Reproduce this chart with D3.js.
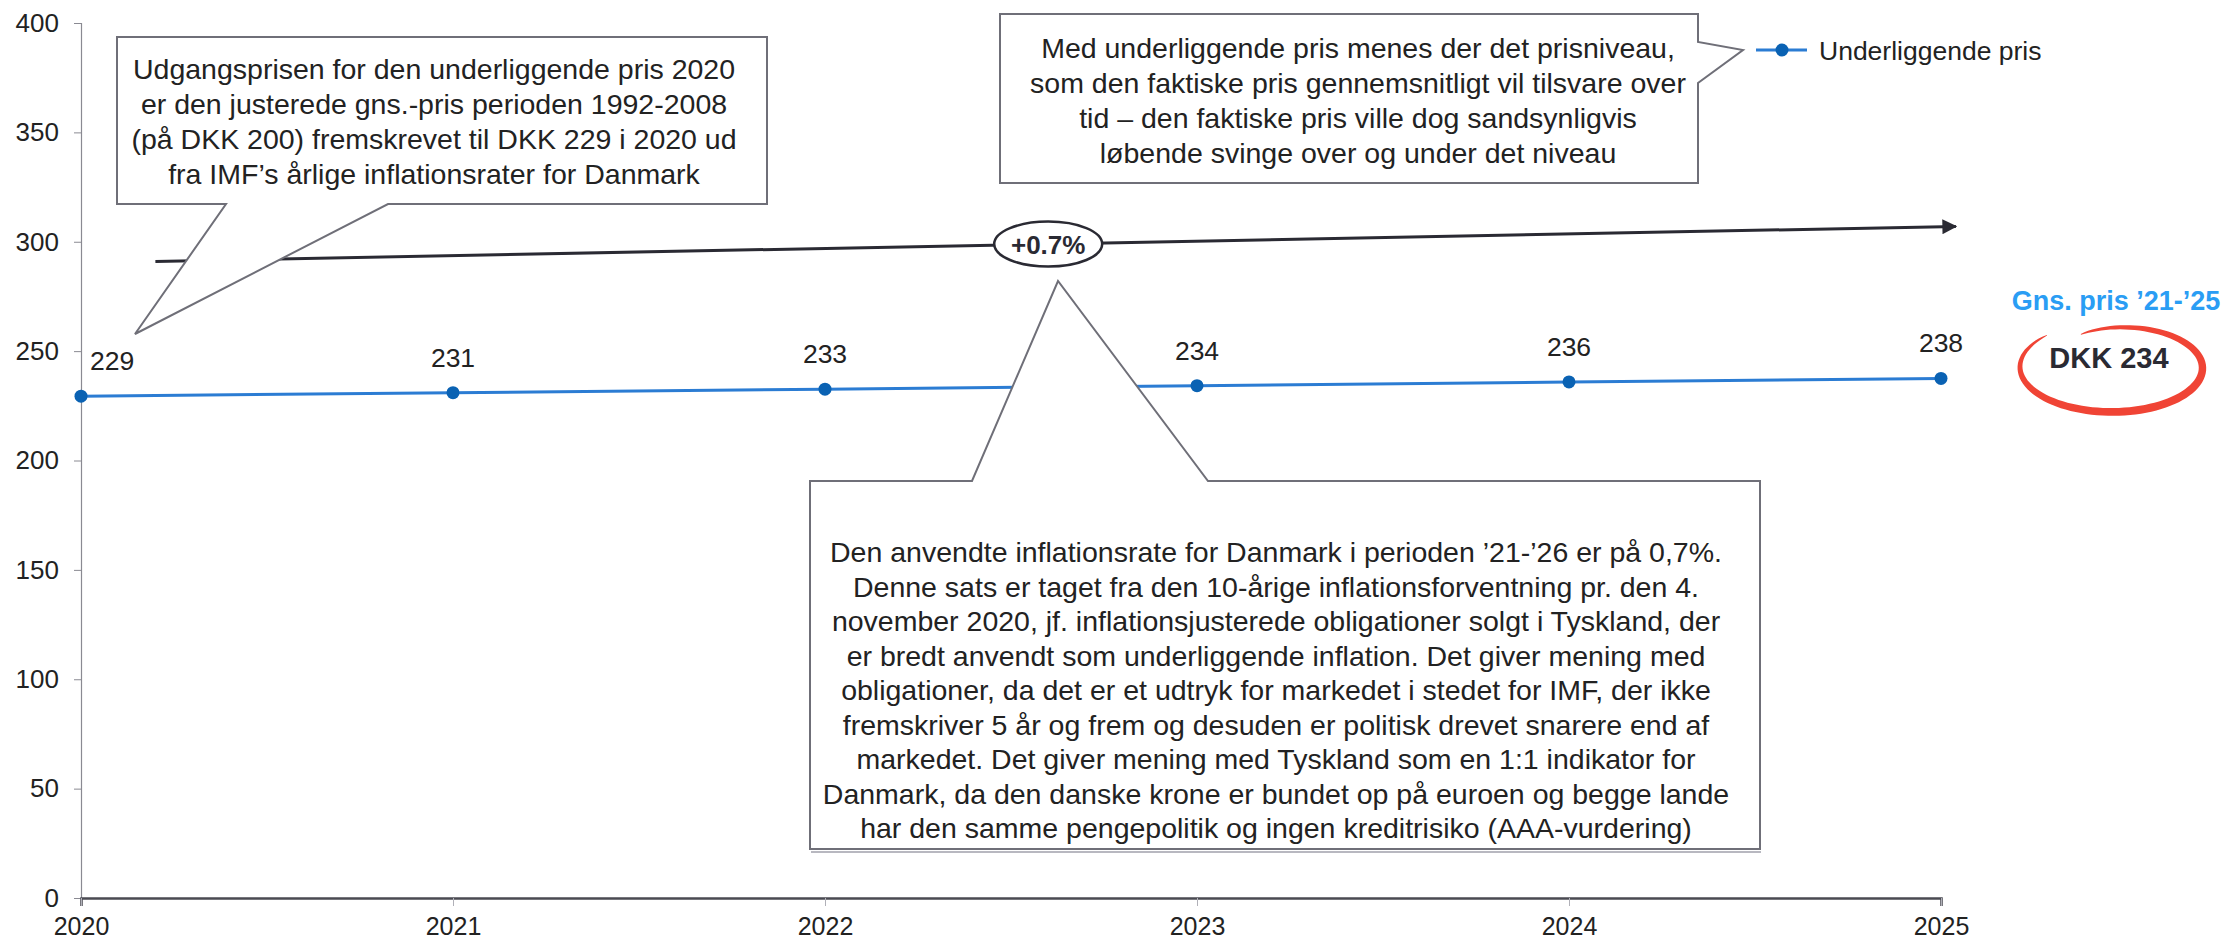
<!DOCTYPE html>
<html>
<head>
<meta charset="utf-8">
<script src="https://cdn.jsdelivr.net/npm/d3@7"></script>
<style>
  html, body { margin: 0; padding: 0; background: #fff; }
  svg { display: block; font-family: "Liberation Sans", Arial, sans-serif; }
</style>
</head>
<body>
<svg id="chart" width="2236" height="941"></svg>
<script>
// data
const years = [2020, 2021, 2022, 2023, 2024, 2025];
const prices = [229.4, 231.0, 232.6, 234.2, 235.9, 237.5];
const priceLabels = ['229', '231', '233', '234', '236', '238'];
const yTicks = [0, 50, 100, 150, 200, 250, 300, 350, 400];
const seriesName = 'Underliggende pris';

// trend arrow (+0.7% p.a.) in data units
const trendYears = [2020.2, 2025.04];
const trendValues = [291, 307];
const trendLabel = '+0.7%';
const trendLabelYear = 2022.6;

const noteStart = [
  'Udgangsprisen for den underliggende pris 2020',
  'er den justerede gns.-pris perioden 1992-2008',
  '(på DKK 200) fremskrevet til DKK 229 i 2020 ud',
  'fra IMF’s årlige inflationsrater for Danmark'
];
const noteDefinition = [
  'Med underliggende pris menes der det prisniveau,',
  'som den faktiske pris gennemsnitligt vil tilsvare over',
  'tid – den faktiske pris ville dog sandsynligvis',
  'løbende svinge over og under det niveau'
];
const noteInflation = [
  'Den anvendte inflationsrate for Danmark i perioden ’21-’26 er på 0,7%.',
  'Denne sats er taget fra den 10-årige inflationsforventning pr. den 4.',
  'november 2020, jf. inflationsjusterede obligationer solgt i Tyskland, der',
  'er bredt anvendt som underliggende inflation. Det giver mening med',
  'obligationer, da det er et udtryk for markedet i stedet for IMF, der ikke',
  'fremskriver 5 år og frem og desuden er politisk drevet snarere end af',
  'markedet. Det giver mening med Tyskland som en 1:1 indikator for',
  'Danmark, da den danske krone er bundet op på euroen og begge lande',
  'har den samme pengepolitik og ingen kreditrisiko (AAA-vurdering)'
];
const avgTitle = 'Gns. pris ’21-’25';
const avgValue = 'DKK 234';

const svg = d3.select('#chart');
const margin = { top: 23, right: 295, bottom: 43, left: 81 };
const width = 2236, height = 941;

const x = d3.scaleLinear().domain([2020, 2025]).range([margin.left, width - margin.right]);
const y = d3.scaleLinear().domain([0, 400]).range([height - margin.bottom, margin.top]);

const BLUE_LINE = '#2b7cd3';
const BLUE_DOT = '#0a62b3';
const DARK = '#2a2a33';
const BOX = '#6f6f78';
const FONT = 'Liberation Sans, Arial, sans-serif';

// y axis
const yAxis = svg.append('g')
  .attr('transform', `translate(${margin.left},0)`)
  .call(d3.axisLeft(y).tickValues(yTicks).tickSize(7).tickPadding(15));
yAxis.select('.domain').attr('stroke', '#8a8a92').attr('stroke-width', 1.2);
yAxis.selectAll('.tick line').attr('stroke', '#8a8a92');
yAxis.selectAll('.tick text').attr('font-size', 26).attr('fill', '#222').attr('font-family', FONT);

// x axis
const xAxis = svg.append('g')
  .attr('transform', `translate(0,${y(0)})`)
  .call(d3.axisBottom(x).tickValues(years).tickFormat(d3.format('d')).tickSize(8).tickPadding(11));
xAxis.select('.domain').attr('stroke', '#4a4a52').attr('stroke-width', 2.5);
xAxis.selectAll('.tick line').attr('stroke', '#b0b0b8');
xAxis.selectAll('.tick text').attr('font-size', 25).attr('fill', '#222').attr('font-family', FONT);

// series
const points = years.map((yr, i) => ({ yr, v: prices[i], label: priceLabels[i] }));
svg.append('path')
  .datum(points)
  .attr('fill', 'none')
  .attr('stroke', BLUE_LINE)
  .attr('stroke-width', 3)
  .attr('d', d3.line().x((d) => x(d.yr)).y((d) => y(d.v)));

svg.append('g').selectAll('circle')
  .data(points)
  .join('circle')
  .attr('cx', (d) => x(d.yr))
  .attr('cy', (d) => y(d.v))
  .attr('r', 6.5)
  .attr('fill', BLUE_DOT);

svg.append('g').selectAll('text')
  .data(points)
  .join('text')
  .attr('x', (d, i) => (i === 0 ? x(d.yr) + 9 : x(d.yr)))
  .attr('y', (d) => y(d.v) - 26)
  .attr('text-anchor', (d, i) => (i === 0 ? 'start' : 'middle'))
  .attr('font-size', 26.5)
  .attr('fill', '#222')
  .text((d) => d.label);

// trend arrow
svg.append('defs').append('marker')
  .attr('id', 'arrow')
  .attr('viewBox', '0 0 10 10')
  .attr('refX', 9).attr('refY', 5)
  .attr('markerWidth', 5).attr('markerHeight', 5)
  .attr('markerUnits', 'strokeWidth')
  .attr('orient', 'auto')
  .append('path')
  .attr('d', 'M0,0 L10,5 L0,10 Z')
  .attr('fill', DARK);

svg.append('line')
  .attr('x1', x(trendYears[0])).attr('y1', y(trendValues[0]))
  .attr('x2', x(trendYears[1])).attr('y2', y(trendValues[1]))
  .attr('stroke', DARK)
  .attr('stroke-width', 3)
  .attr('marker-end', 'url(#arrow)');

// callout boxes
function callout(pathD, lines, cx, firstY, step) {
  const g = svg.append('g');
  g.append('path')
    .attr('d', pathD)
    .attr('fill', '#fff')
    .attr('stroke', BOX)
    .attr('stroke-width', 2);
  g.selectAll('text')
    .data(lines)
    .join('text')
    .attr('x', cx)
    .attr('y', (d, i) => firstY + i * step)
    .attr('text-anchor', 'middle')
    .attr('dominant-baseline', 'central')
    .attr('font-size', 28.5)
    .attr('fill', '#222')
    .text((d) => d);
  return g;
}

callout('M117,37 H767 V204 H388 L135,334 L226,204 H117 Z', noteStart, 434, 69, 35);
callout('M1000,14 H1698 V42 L1743,50 L1698,83 V183 H1000 Z', noteDefinition, 1358, 48, 35);

// shadow under the lower box
svg.append('line')
  .attr('x1', 811).attr('x2', 1761).attr('y1', 852).attr('y2', 852)
  .attr('stroke', '#b8b8c0').attr('stroke-width', 2);
callout('M810,481 H972 L1058,281 L1208,481 H1760 V849 H810 Z', noteInflation, 1276, 552, 34.5);

// +0.7% bubble
const trendAt = (yr) => trendValues[0] + (trendValues[1] - trendValues[0]) * (yr - trendYears[0]) / (trendYears[1] - trendYears[0]);
const bubbleX = x(trendLabelYear);
const bubbleY = y(trendAt(trendLabelYear));
svg.append('ellipse')
  .attr('cx', bubbleX).attr('cy', bubbleY)
  .attr('rx', 54).attr('ry', 22.5)
  .attr('fill', '#fff')
  .attr('stroke', DARK)
  .attr('stroke-width', 2.5);
svg.append('text')
  .attr('x', bubbleX).attr('y', bubbleY + 1)
  .attr('text-anchor', 'middle')
  .attr('dominant-baseline', 'central')
  .attr('font-size', 26)
  .attr('font-weight', 'bold')
  .attr('fill', DARK)
  .text(trendLabel);

// legend
const legend = svg.append('g').attr('transform', 'translate(1756,50)');
legend.append('line').attr('x1', 0).attr('x2', 51).attr('stroke', BLUE_LINE).attr('stroke-width', 3);
legend.append('circle').attr('cx', 26).attr('r', 6.5).attr('fill', BLUE_DOT);
legend.append('text')
  .attr('x', 63).attr('y', 1)
  .attr('dominant-baseline', 'central')
  .attr('font-size', 26.5)
  .attr('fill', '#222')
  .text(seriesName);

// average annotation
svg.append('text')
  .attr('x', 2116).attr('y', 310)
  .attr('text-anchor', 'middle')
  .attr('font-size', 27)
  .attr('font-weight', 'bold')
  .attr('fill', '#2a9df4')
  .text(avgTitle);

// hand-drawn ring: tapered stroke built as a filled outline
const ringCx = 2112, ringCy = 367, ringRx = 92, ringRy = 45;
const ringT = d3.range(0, 1.0001, 0.01);
const ringPt = (t) => {
  const a = (225 - 340 * t) * Math.PI / 180;
  const k = 1.0 - 0.2 * Math.pow(t, 6);
  return [ringCx + ringRx * k * Math.cos(a), ringCy + ringRy * k * Math.sin(a)];
};
const outer = [], inner = [];
ringT.forEach((t) => {
  const p = ringPt(t);
  const q = ringPt(Math.min(1, t + 0.005));
  const r = ringPt(Math.max(0, t - 0.005));
  const dx = q[0] - r[0], dy = q[1] - r[1];
  const len = Math.hypot(dx, dy) || 1;
  const w = (0.6 + 7.4 * Math.pow(Math.sin(Math.PI * t), 0.6)) / 2;
  outer.push([p[0] - dy / len * w, p[1] + dx / len * w]);
  inner.push([p[0] + dy / len * w, p[1] - dx / len * w]);
});
svg.append('path')
  .attr('d', d3.line().curve(d3.curveLinearClosed)(outer.concat(inner.reverse())))
  .attr('fill', '#f04435');

svg.append('text')
  .attr('x', 2109).attr('y', 368)
  .attr('text-anchor', 'middle')
  .attr('font-size', 29)
  .attr('font-weight', 'bold')
  .attr('fill', DARK)
  .text(avgValue);
</script>
</body>
</html>
